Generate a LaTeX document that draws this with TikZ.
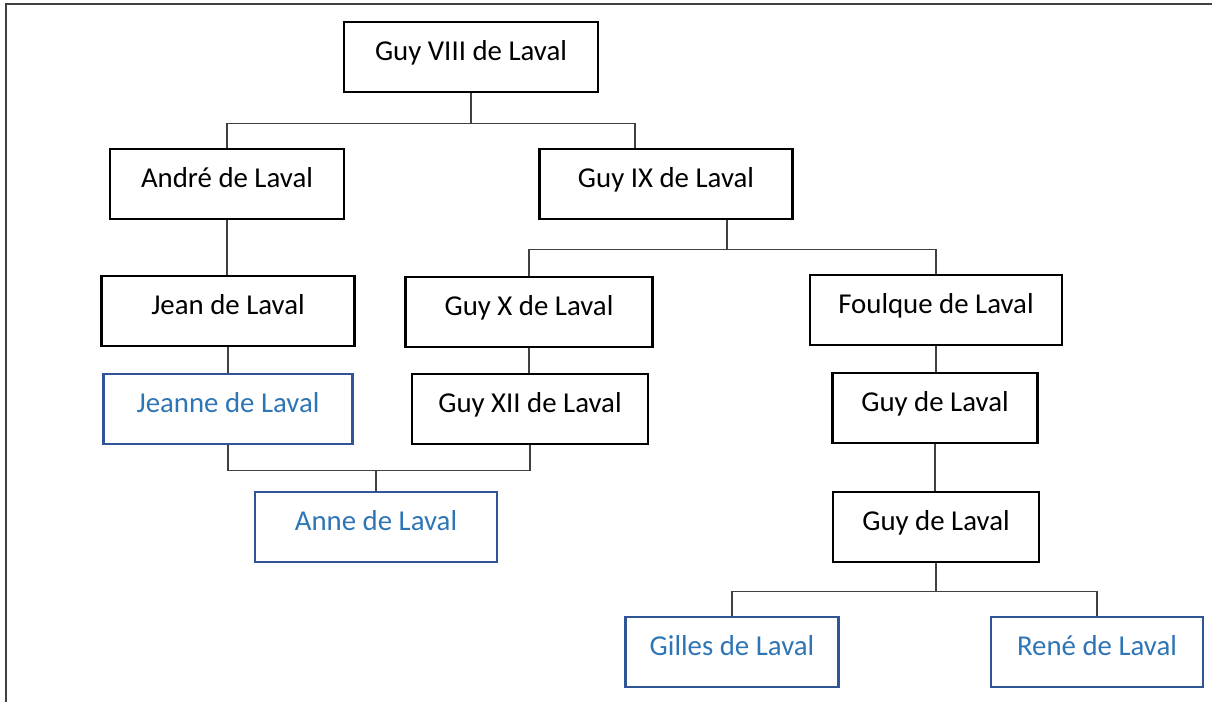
\documentclass[tikz,border=0pt]{standalone}
\usepackage{fontspec}
\setmainfont{Carlito}
\usetikzlibrary{positioning,calc}
\definecolor{lvBlue}{RGB}{46,117,182}
\definecolor{lvBlueLine}{RGB}{47,85,151}
\definecolor{lvLink}{RGB}{64,64,64}

\begin{document}
\begin{tikzpicture}[
  x=0.02cm, y=-0.02cm,
  font=\fontsize{16.4}{19.7}\selectfont,
  person/.style={draw, line width=1.2pt, minimum height=1.4cm, inner sep=2pt, text height=0.75em, text depth=0.31em},
  heir/.style={person, draw=lvBlueLine, text=lvBlue},
  link/.style={draw=lvLink, line width=0.6pt},
]
\useasboundingbox (0,0) rectangle (1212,702);
% frame
\draw[link] (1212,4) -- (6,4) -- (6,702);
% generations
\node[person, minimum width=5.08cm] (guy8) at (471,57) {Guy VIII de Laval};
\node[person, minimum width=4.68cm] (andre) at (227,184) {André de Laval};
\node[person, minimum width=5.06cm] (guy9) at (666,184) {Guy IX de Laval};
\node[person, minimum width=5.06cm] (jean) at (228,311) {Jean de Laval};
\node[person, minimum width=4.94cm] (guy10) at (529,312) {Guy X de Laval};
\node[person, minimum width=5.04cm] (foulque) at (936,310) {Foulque de Laval};
\node[heir, minimum width=4.98cm] (jeanne) at (228,409) {Jeanne de Laval};
\node[person, minimum width=4.72cm] (guy12) at (530,409) {Guy XII de Laval};
\node[heir, minimum width=4.84cm] (anne) at (376,527) {Anne de Laval};
\node[person, minimum width=4.1cm] (guyA) at (935,408) {Guy de Laval};
\node[person, minimum width=4.12cm] (guyB) at (936,527) {Guy de Laval};
\node[heir, minimum width=4.26cm] (gilles) at (732,652) {Gilles de Laval};
\node[heir, minimum width=4.24cm] (rene) at (1097,652) {René de Laval};
% links
\draw[link] (guy8.south) -- ++(0,30) coordinate (bar1);
\draw[link] (andre.north) |- (bar1) -| ($(guy9.north)+(-31,0)$);
\draw[link] (andre.south) -- (andre.south |- jean.north);
\draw[link] ($(guy9.south)+(61,0)$) -- ++(0,29) coordinate (bar2);
\draw[link] (guy10.north) |- (bar2) -| (foulque.north);
\draw[link] (jean.south) -- (jeanne.north);
\draw[link] (guy10.south) -- (guy10.south |- guy12.north);
\draw[link] (jeanne.south) -- ++(0,25) coordinate (bar3) -| (guy12.south);
\draw[link] (anne.north) -- (anne.north |- bar3);
\draw[link] (foulque.south) -- (foulque.south |- guyA.north);
\draw[link] (guyA.south) -- (guyA.south |- guyB.north);
\draw[link] (guyB.south) -- ++(0,28) coordinate (bar4);
\draw[link] (gilles.north) |- (bar4) -| (rene.north);
\end{tikzpicture}
\end{document}
